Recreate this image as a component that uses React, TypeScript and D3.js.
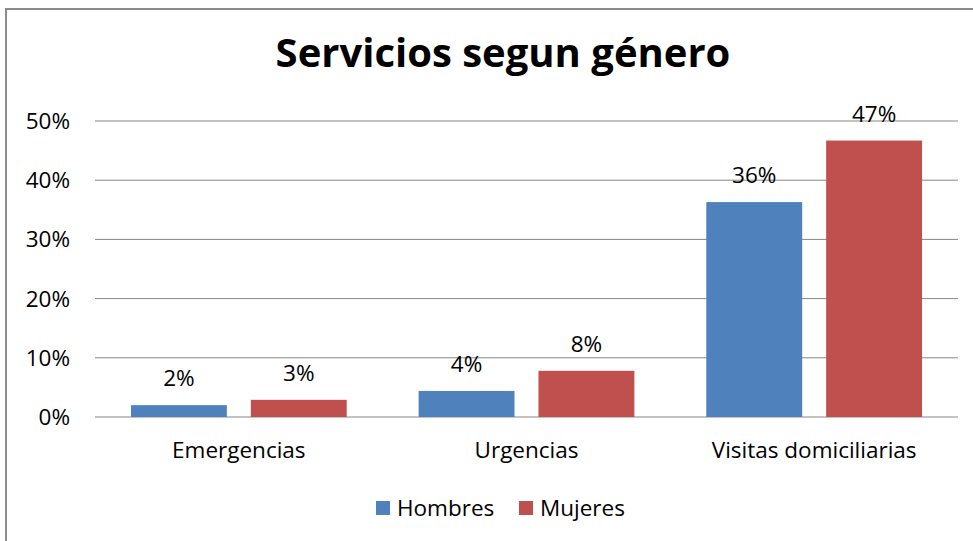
import React from "react";
import * as d3 from "d3";

const categories = ["Emergencias", "Urgencias", "Visitas domiciliarias"];
const seriesNames = ["Hombres", "Mujeres"];
const hombres = [0.02, 0.044, 0.363];
const mujeres = [0.029, 0.078, 0.467];
const yTicks = [0, 0.1, 0.2, 0.3, 0.4, 0.5];
const colors = ["#4F81BD", "#C0504D"];

const W = 973;
const H = 541;
const FONT = "'Open Sans', 'Noto Sans', sans-serif";
const FS = 22.5;

export default function App() {
  const x = d3.scaleBand<string>().domain(categories).range([95, 958]).paddingInner(0).paddingOuter(0);
  const xs = d3.scaleBand<string>().domain(seriesNames).range([0, x.bandwidth()]).paddingInner(0.2).paddingOuter(0.3);
  const y = d3.scaleLinear().domain([0, 0.5]).range([417, 121]);
  const fmt = d3.format(".0%");
  const series = [hombres, mujeres];

  return (
    <svg width={W} height={H} style={{ position: "absolute", left: 0, top: 0, background: "#fff" }} fontFamily={FONT}>
      <rect x={0} y={0} width={W} height={H} fill="#fff" />
      <rect x={6} y={9} width={W + 20} height={H + 20} fill="none" stroke="#8c8c8c" strokeWidth={2} />
      <text x={503} y={67} textAnchor="middle" fontSize={40} fontWeight={700} fill="#000">
        Servicios segun género
      </text>
      {yTicks.map((t) => (
        <g key={t}>
          <line x1={95} x2={958} y1={y(t)} y2={y(t)} stroke="#868686" strokeWidth={1} />
          <text x={70} y={y(t) + 8} textAnchor="end" fontSize={FS} fill="#000">
            {fmt(t)}
          </text>
        </g>
      ))}
      {categories.map((c, i) => (
        <g key={c}>
          {series.map((vals, s) => {
            const bx = (x(c) as number) + (xs(seriesNames[s]) as number);
            const v = vals[i];
            return (
              <g key={s}>
                <rect x={bx} y={y(v)} width={xs.bandwidth()} height={y(0) - y(v)} fill={colors[s]} />
                <text x={bx + xs.bandwidth() / 2} y={y(v) - 19} textAnchor="middle" fontSize={FS} fill="#000">
                  {fmt(v)}
                </text>
              </g>
            );
          })}
          <text x={(x(c) as number) + x.bandwidth() / 2} y={458} textAnchor="middle" fontSize={FS} fill="#000">
            {c}
          </text>
        </g>
      ))}
      {seriesNames.map((n, s) => {
        const lx = s === 0 ? 376 : 519;
        return (
          <g key={n}>
            <rect x={lx} y={501} width={14} height={14} fill={colors[s]} />
            <text x={lx + 21} y={516} fontSize={FS} fill="#000">
              {n}
            </text>
          </g>
        );
      })}
    </svg>
  );
}
